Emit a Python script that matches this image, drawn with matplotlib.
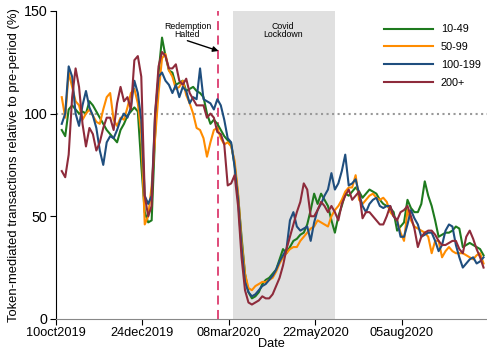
import numpy as np
import pandas as pd
import matplotlib
matplotlib.use('Agg')
import matplotlib.pyplot as plt

plt.rcParams['font.family'] = ['Liberation Sans', 'DejaVu Sans']

# fechas (cada 3 dias)
fechas = pd.date_range('2019-10-15', periods=123, freq='3D')

g10_49 = [92, 89, 102, 104, 102, 100, 101, 100, 106, 104, 101, 98, 95, 92, 90, 88, 86, 92, 95, 99,
          101, 103, 101, 75, 52, 47, 48, 90, 120, 137, 128, 121, 120, 114, 115, 116, 111, 112, 113, 111,
          110, 108, 100, 95, 97, 95, 92, 89, 87, 85, 75, 60, 40, 22, 13, 10, 11, 13, 17, 19,
          20, 22, 24, 29, 34, 32, 35, 38, 39, 41, 42, 46, 53, 61, 56, 61, 58, 55, 48, 42,
          50, 55, 61, 60, 62, 64, 62, 59, 61, 63, 62, 61, 58, 56, 55, 54, 52, 43, 45, 47,
          58, 54, 52, 52, 56, 67, 60, 55, 48, 40, 41, 42, 42, 43, 45, 44, 35, 36, 37, 36,
          35, 34, 31]
g50_99 = [108, 98, 120, 113, 106, 104, 97, 100, 102, 99, 96, 95, 102, 108, 110, 97, 94, 98, 97, 103,
          110, 112, 105, 90, 46, 50, 65, 88, 110, 127, 129, 121, 118, 112, 113, 116, 109, 105, 100, 93,
          92, 88, 79, 86, 92, 93, 88, 85, 86, 84, 77, 61, 38, 22, 15, 14, 16, 17, 18, 18,
          19, 20, 23, 27, 30, 32, 34, 35, 35, 38, 40, 42, 44, 45, 48, 47, 46, 45, 50, 53,
          55, 58, 62, 64, 64, 70, 58, 56, 58, 60, 61, 59, 58, 59, 57, 52, 50, 48, 42, 38,
          53, 48, 45, 44, 43, 42, 40, 32, 38, 38, 30, 33, 35, 33, 32, 32, 32, 31, 30, 29,
          31, 32, 27]
g100_199 = [95, 100, 123, 118, 100, 94, 104, 111, 103, 99, 93, 82, 75, 86, 89, 88, 92, 97, 100, 98,
            103, 116, 110, 97, 60, 56, 60, 100, 118, 120, 116, 114, 110, 114, 108, 113, 111, 105, 108, 107,
            122, 107, 106, 105, 102, 107, 104, 97, 88, 86, 74, 58, 35, 18, 13, 11, 12, 14, 16, 17,
            19, 21, 24, 28, 31, 34, 48, 52, 45, 43, 44, 45, 38, 47, 53, 56, 60, 63, 71, 63,
            66, 72, 80, 65, 66, 68, 61, 55, 52, 56, 58, 59, 55, 54, 55, 55, 50, 48, 40, 40,
            46, 53, 49, 46, 40, 41, 42, 42, 38, 33, 36, 43, 46, 45, 36, 30, 25, 27, 29, 30,
            27, 28, 30]
g200 = [72, 69, 80, 108, 122, 113, 95, 84, 93, 90, 82, 86, 93, 98, 98, 92, 105, 113, 106, 108,
        102, 126, 128, 118, 60, 50, 55, 100, 123, 130, 128, 122, 122, 124, 116, 114, 117, 110, 107, 104,
        104, 104, 98, 100, 98, 91, 90, 85, 65, 66, 70, 55, 30, 14, 8, 7, 8, 9, 11, 10,
        10, 12, 16, 20, 26, 34, 40, 46, 52, 57, 66, 63, 50, 50, 53, 57, 55, 52, 55, 52,
        48, 56, 60, 63, 58, 60, 62, 49, 52, 52, 50, 48, 46, 46, 50, 55, 50, 48, 52, 53,
        55, 50, 44, 35, 40, 42, 43, 43, 41, 38, 36, 36, 37, 38, 38, 34, 32, 40, 43, 39,
        34, 30, 25]

series = [('10-49', g10_49, '#1e7a1e'),
          ('50-99', g50_99, '#ff8c00'),
          ('100-199', g100_199, '#1f4e7e'),
          ('200+', g200, '#8e2b3b')]

ticks = pd.to_datetime(['2019-10-10', '2019-12-24', '2020-03-08', '2020-05-22', '2020-08-05'])
tick_labels = ['10oct2019', '24dec2019', '08mar2020', '22may2020', '05aug2020']

redencion = pd.Timestamp('2020-02-28')
lockdown = (pd.Timestamp('2020-03-12'), pd.Timestamp('2020-06-08'))

fig = plt.figure(figsize=(4.87, 3.52), dpi=100)
ax = fig.add_axes([0.115, 0.094, 0.885, 0.875])

ax.axvspan(lockdown[0], lockdown[1], color='#e0e0e0', lw=0, zorder=0)
ax.axhline(100, color='#999999', ls=':', lw=1.5, zorder=1)
ax.axvline(redencion, color='#dc3c6e', ls=(0, (5, 3)), lw=1.3, zorder=1)

for nombre, vals, col in series:
    ax.plot(fechas, vals, color=col, lw=1.5, label=nombre, zorder=2)

# texto y flecha por separado
ax.text(pd.Timestamp('2020-02-01'), 140.5, 'Redemption\nHalted', ha='center', va='center',
        fontsize=6.3, linespacing=0.95)
ax.annotate('', xy=(pd.Timestamp('2020-02-28'), 130.5), xytext=(pd.Timestamp('2020-02-01'), 135.5),
            arrowprops=dict(arrowstyle='-|>', color='black', lw=1.0, mutation_scale=8,
                            shrinkA=0, shrinkB=0))
ax.text(pd.Timestamp('2020-04-24'), 140.5, 'Covid\nLockdown', ha='center', va='center',
        fontsize=6.3, linespacing=0.95)

ax.set_xlim(pd.Timestamp('2019-10-10'), pd.Timestamp('2020-10-18'))
ax.set_ylim(0, 150)
ax.set_yticks([0, 50, 100, 150])
ax.set_xticks(ticks)
ax.set_xticklabels(tick_labels)
ax.tick_params(axis='x', labelsize=9.2, direction='out', length=4, pad=2)
ax.tick_params(axis='y', labelsize=10.3, direction='out', length=4, pad=2)
ax.spines['top'].set_visible(False)
ax.spines['right'].set_visible(False)
ax.spines['bottom'].set_color('#888888')
ax.set_ylabel('Token-mediated transactions relative to pre-period (%)', fontsize=9.4, labelpad=3)
ax.set_xlabel('Date', fontsize=9.2, labelpad=-1)

ax.legend(loc='upper left', bbox_to_anchor=(0.761, 0.956), frameon=False, fontsize=7.8,
          handlelength=4.5, handletextpad=0.75, labelspacing=0.72,
          borderaxespad=0, borderpad=0)

plt.savefig('out.png', dpi=100)
